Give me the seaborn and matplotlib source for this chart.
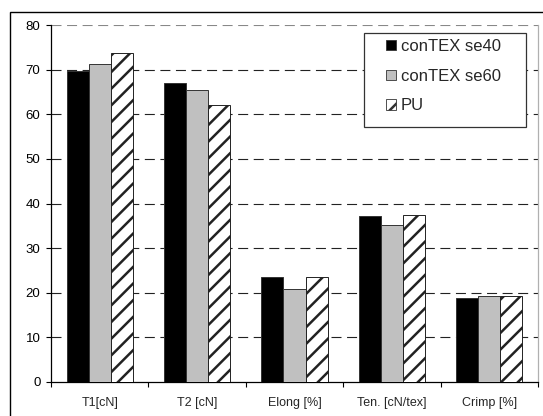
import numpy as np
import pandas as pd
import matplotlib
matplotlib.use("Agg")
import matplotlib.pyplot as plt
import seaborn as sns
from matplotlib.patches import Rectangle

sns.set_theme(style="white")
plt.rcParams['font.family'] = ['Liberation Sans', 'DejaVu Sans']
plt.rcParams['hatch.linewidth'] = 1.8

categories = ['T1[cN]', 'T2 [cN]', 'Elong [%]', 'Ten. [cN/tex]', 'Crimp [%]']
series = ['conTEX se40', 'conTEX se60', 'PU']
se40 = [69.8, 66.9, 23.6, 37.2, 18.9]
se60 = [71.3, 65.5, 20.8, 35.2, 19.2]
pu = [73.7, 62.0, 23.6, 37.4, 19.2]
colors = ['#000000', '#c0c0c0', '#ffffff']

df = pd.DataFrame({
    'category': categories * 3,
    'series': np.repeat(series, len(categories)),
    'value': se40 + se60 + pu,
})

W, H = 543, 416
fig = plt.figure(figsize=(W / 100, H / 100), dpi=100)
ax = fig.add_axes([51 / W, (H - 382) / H, (538 - 51) / W, (382 - 25) / H])

sns.barplot(data=df, x='category', y='value', hue='series', order=categories,
            hue_order=series, palette=colors, width=0.68, gap=0,
            edgecolor='#333333', linewidth=0.7, saturation=1, ax=ax,
            errorbar=None, zorder=3)

# hatch the PU bars
for bar in ax.containers[2]:
    bar.set_hatch('//')
    bar.set_edgecolor('#222222')

ax.set_xlim(-0.5, len(categories) - 0.5)
ax.set_ylim(0, 80)
ax.set_yticks(range(0, 81, 10))
ax.set_xlabel('')
ax.set_ylabel('')

# dashed horizontal grid
for v in range(10, 81, 10):
    ax.axhline(v, color='#888888' if v == 80 else '#222222', lw=0.8,
               ls=(0, (9, 5)), zorder=1)

ax.spines['top'].set_visible(False)
ax.spines['right'].set_color('#b0b0b0')
ax.spines['right'].set_linewidth(0.9)
for s in ['left', 'bottom']:
    ax.spines[s].set_color('black')
    ax.spines[s].set_linewidth(0.9)

ax.tick_params(axis='y', which='major', left=True, length=3.6, width=0.8,
               direction='out', labelsize=9.5, pad=4, colors='black')
ax.set_xticks(np.arange(len(categories)))
ax.set_xticklabels(categories)
ax.set_xticks(np.arange(-0.5, len(categories), 1), minor=True)
ax.tick_params(axis='x', which='major', length=0, labelsize=9, pad=11)
ax.tick_params(axis='x', which='minor', bottom=True, length=3.6, width=0.8,
               direction='out', color='black')

# legend text without frame, box drawn separately behind it
handles, labels = ax.get_legend_handles_labels()
leg = ax.legend(handles, labels, loc='upper left',
                bbox_to_anchor=(386 / W, 1 - 39 / H),
                bbox_transform=fig.transFigure,
                borderaxespad=0, borderpad=0, fontsize=12, frameon=False,
                handlelength=0.6, handleheight=0.6, handletextpad=0.3,
                labelspacing=0.88)
for i, h in enumerate(leg.legend_handles):
    h.set_edgecolor('#333333')
    h.set_linewidth(0.6)
    if i == 2:
        h.set_hatch('//')
box = Rectangle((364 / W, 1 - 127 / H), (526 - 364) / W, (127 - 33) / H,
                transform=fig.transFigure, facecolor='white',
                edgecolor='#333333', lw=0.9, zorder=5, clip_on=False)
ax.add_patch(box)
leg.set_zorder(6)

# outer chart frame
fig.patches.append(Rectangle((10 / W, -0.1), 1.2, (H - 12) / H + 0.1,
                             transform=fig.transFigure, fill=False,
                             edgecolor='black', lw=1.0))

fig.savefig('out.png', dpi=100)
